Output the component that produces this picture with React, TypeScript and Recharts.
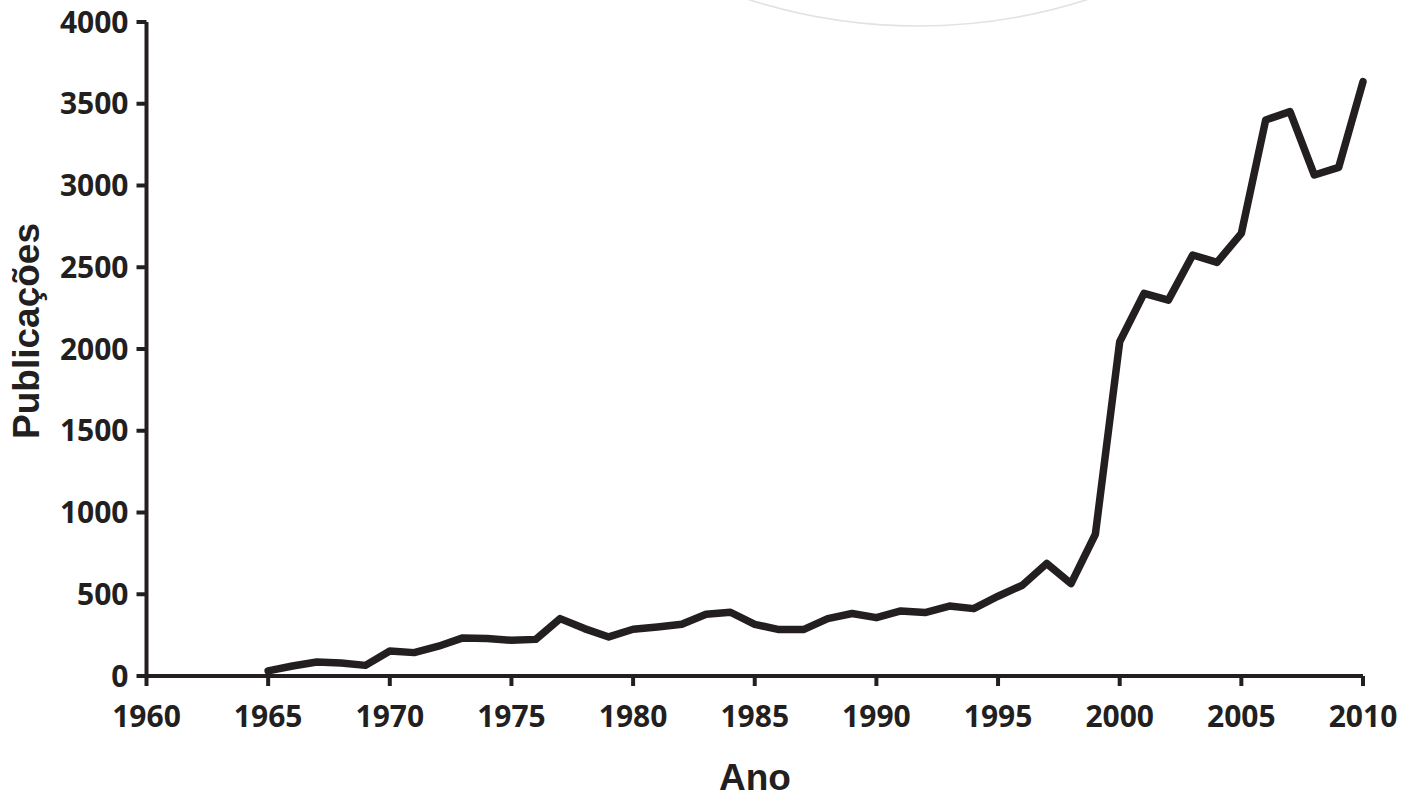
import { LineChart, Line, XAxis, YAxis, Label } from 'recharts';

const years: number[] = [
  1965, 1966, 1967, 1968, 1969, 1970, 1971, 1972, 1973, 1974,
  1975, 1976, 1977, 1978, 1979, 1980, 1981, 1982, 1983, 1984,
  1985, 1986, 1987, 1988, 1989, 1990, 1991, 1992, 1993, 1994,
  1995, 1996, 1997, 1998, 1999, 2000, 2001, 2002, 2003, 2004,
  2005, 2006, 2007, 2008, 2009, 2010,
];

const publications: number[] = [
  31, 61, 86, 80, 65, 153, 143, 182, 233, 229,
  218, 224, 351, 290, 239, 286, 300, 316, 378, 390,
  316, 284, 284, 351, 382, 357, 398, 388, 428, 412,
  488, 555, 688, 565, 867, 2044, 2340, 2299, 2575, 2530,
  2707, 3401, 3452, 3064, 3111, 3635,
];

const xTicks: number[] = [1960, 1965, 1970, 1975, 1980, 1985, 1990, 1995, 2000, 2005, 2010];
const yTicks: number[] = [0, 500, 1000, 1500, 2000, 2500, 3000, 3500, 4000];

const data = years.map((year, i) => ({ year, value: publications[i] }));

const ink = '#231f20';
const tickFont = {
  fill: ink,
  fontSize: 30,
  fontWeight: 700,
  fontFamily: '"Open Sans", sans-serif',
};
const titleFont = {
  fill: ink,
  fontSize: 37,
  fontWeight: 700,
  fontFamily: '"Liberation Sans", Arial, sans-serif',
};

const App = () => {
  return (
    <div style={{ position: 'absolute', left: 0, top: 0, width: 1404, height: 800, background: '#fff' }}>
      {/* faint arc left over in the source image */}
      <svg
        width={1404}
        height={800}
        style={{ position: 'absolute', left: 0, top: 0, pointerEvents: 'none' }}
      >
        <circle cx={918} cy={-529} r={555} fill="none" stroke="#e2e2e2" strokeWidth={1.6} />
      </svg>
      <LineChart
        width={1404}
        height={800}
        data={data}
        margin={{ top: 22, right: 41, bottom: 94, left: 66.5 }}
        style={{ position: 'absolute', left: 0, top: 0 }}
      >
        <XAxis
          dataKey="year"
          type="number"
          domain={[1960, 2010]}
          ticks={xTicks}
          interval={0}
          height={30}
          tick={tickFont}
          tickSize={10}
          tickMargin={20}
          axisLine={{ stroke: ink, strokeWidth: 4 }}
          tickLine={{ stroke: ink, strokeWidth: 4 }}
        >
          <Label
            content={() => (
              <text x={755} y={790} textAnchor="middle" {...titleFont}>
                Ano
              </text>
            )}
          />
        </XAxis>
        <YAxis
          type="number"
          domain={[0, 4000]}
          ticks={yTicks}
          interval={0}
          width={80}
          tick={tickFont}
          tickSize={10}
          tickMargin={8}
          axisLine={{ stroke: ink, strokeWidth: 4 }}
          tickLine={{ stroke: ink, strokeWidth: 4 }}
        >
          <Label
            content={() => (
              <text x={39} y={331} textAnchor="middle" transform="rotate(-90 39 331)" {...titleFont}>
                Publicações
              </text>
            )}
          />
        </YAxis>
        <Line
          type="linear"
          dataKey="value"
          stroke={ink}
          strokeWidth={7.5}
          strokeLinejoin="round"
          strokeLinecap="round"
          dot={false}
          activeDot={false}
          isAnimationActive={false}
        />
      </LineChart>
    </div>
  );
};

export default App;
